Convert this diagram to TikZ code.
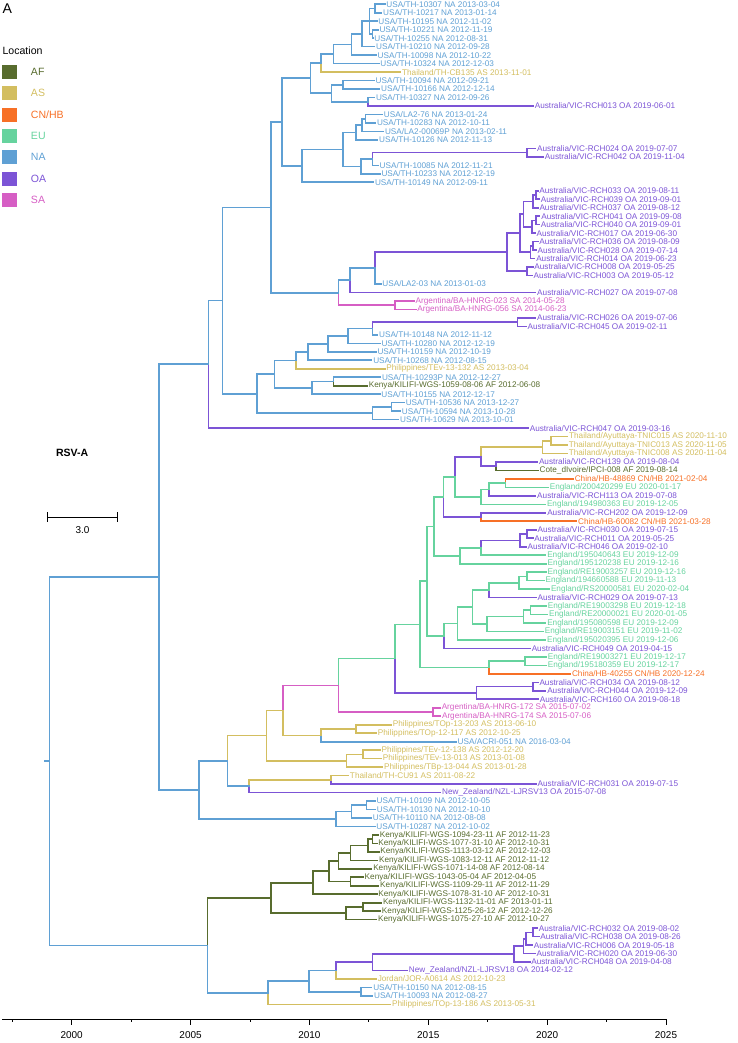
\documentclass[tikz,border=0pt]{standalone}
\usepackage{fontspec}
\setmainfont{Liberation Sans}
\usetikzlibrary{positioning}
\definecolor{locAF}{RGB}{88,108,46}
\definecolor{locAS}{RGB}{211,190,96}
\definecolor{locCN}{RGB}{247,112,38}
\definecolor{locEU}{RGB}{102,211,158}
\definecolor{locNA}{RGB}{95,160,212}
\definecolor{locOA}{RGB}{124,84,214}
\definecolor{locSA}{RGB}{214,94,196}
\tikzset{
  lf/.style   = {anchor=west, inner xsep=1.2pt, inner ysep=0pt,
                 font=\fontsize{7}{8}\selectfont},
  lfAF/.style = {lf, text=locAF},
  lfAS/.style = {lf, text=locAS},
  lfCN/.style = {lf, text=locCN},
  lfEU/.style = {lf, text=locEU},
  lfNA/.style = {lf, text=locNA},
  lfOA/.style = {lf, text=locOA},
  lfSA/.style = {lf, text=locSA},
  br/.style   = {line width=1.4pt, line cap=rect},
  brAF/.style = {br, draw=locAF},
  brAS/.style = {br, draw=locAS},
  brCN/.style = {br, draw=locCN},
  brEU/.style = {br, draw=locEU},
  brNA/.style = {br, draw=locNA},
  brOA/.style = {br, draw=locOA},
  brSA/.style = {br, draw=locSA}
}

\begin{document}
\begin{tikzpicture}[
    x=0.03cm, y=-0.03cm,
    key/.style={minimum size=0.42cm, inner sep=0pt},
    keytxt/.style={anchor=west, inner sep=0pt, font=\fontsize{9}{10}\selectfont},
    yrlbl/.style={inner sep=0pt, font=\fontsize{8.5}{9}\selectfont},
    axs/.style={line width=0.8pt, black}
  ]
  \useasboundingbox (0,0) rectangle (738,1043);

  % ── PANEL + LEGEND ──
  \node[anchor=north west, inner sep=0pt, font=\fontsize{12}{12}\selectfont] (panel) at (2.4,4) {A};
  \node[keytxt] (loc) at (2.4,51) {Location};
  \node[key, fill=locAF] (kAF) at (9.5,72.0) {};
  \node[key, fill=locAS] (kAS) at (9.5,93.3) {};
  \node[key, fill=locCN] (kCN) at (9.5,114.7) {};
  \node[key, fill=locEU] (kEU) at (9.5,136.0) {};
  \node[key, fill=locNA] (kNA) at (9.5,157.3) {};
  \node[key, fill=locOA] (kOA) at (9.5,178.7) {};
  \node[key, fill=locSA] (kSA) at (9.5,200.0) {};
  \node[keytxt, text=locAF, right=0.42cm of kAF] (tAF) {AF};
  \node[keytxt, text=locAS, right=0.42cm of kAS] (tAS) {AS};
  \node[keytxt, text=locCN, right=0.42cm of kCN] (tCN) {CN/HB};
  \node[keytxt, text=locEU, right=0.42cm of kEU] (tEU) {EU};
  \node[keytxt, text=locNA, right=0.42cm of kNA] (tNA) {NA};
  \node[keytxt, text=locOA, right=0.42cm of kOA] (tOA) {OA};
  \node[keytxt, text=locSA, right=0.42cm of kSA] (tSA) {SA};

  % ── SUBTYPE + SCALE BAR ──
  \node[font=\bfseries\fontsize{9}{10}\selectfont] (rsv) at (72.2,453.3) {RSV-A};
  \coordinate (sb_l) at (47.2,517.3);
  \coordinate (sb_r) at (117.9,517.3);
  \draw[axs] (sb_l) -- (sb_r);
  \draw[axs] (47.2,512.3) -- (47.2,522.3) (117.9,512.3) -- (117.9,522.3);
  \node[yrlbl] (sb_txt) at (82.5,530.5) {3.0};

  \begin{scope}[shift={(71.7,-4.175)}, x=0.7131cm, y=-0.25425cm]
    % ── TIPS ──
    \node[lfNA] (L1)   at (13.170,1)   {USA/TH-10307 NA 2013-03-04};
    \node[lfNA] (L2)   at (13.036,2)   {USA/TH-10217 NA 2013-01-14};
    \node[lfNA] (L3)   at (12.836,3)   {USA/TH-10195 NA 2012-11-02};
    \node[lfNA] (L4)   at (12.882,4)   {USA/TH-10221 NA 2012-11-19};
    \node[lfNA] (L5)   at (12.663,5)   {USA/TH-10255 NA 2012-08-31};
    \node[lfNA] (L6)   at (12.740,6)   {USA/TH-10210 NA 2012-09-28};
    \node[lfNA] (L7)   at (12.805,7)   {USA/TH-10098 NA 2012-10-22};
    \node[lfNA] (L8)   at (12.920,8)   {USA/TH-10324 NA 2012-12-03};
    \node[lfAS] (L9)   at (13.833,9)   {Thailand/TH-CB135 AS 2013-11-01};
    \node[lfNA] (L10)  at (12.721,10)  {USA/TH-10094 NA 2012-09-21};
    \node[lfNA] (L11)  at (12.951,11)  {USA/TH-10166 NA 2012-12-14};
    \node[lfNA] (L12)  at (12.734,12)  {USA/TH-10327 NA 2012-09-26};
    \node[lfOA] (L13)  at (19.414,13)  {Australia/VIC-RCH013 OA 2019-06-01};
    \node[lfNA] (L14)  at (13.063,14)  {USA/LA2-76 NA 2013-01-24};
    \node[lfNA] (L15)  at (12.775,15)  {USA/TH-10283 NA 2012-10-11};
    \node[lfNA] (L16)  at (13.112,16)  {USA/LA2-00069P NA 2013-02-11};
    \node[lfNA] (L17)  at (12.866,17)  {USA/TH-10126 NA 2012-11-13};
    \node[lfOA] (L18)  at (19.512,18)  {Australia/VIC-RCH024 OA 2019-07-07};
    \node[lfOA] (L19)  at (19.841,19)  {Australia/VIC-RCH042 OA 2019-11-04};
    \node[lfNA] (L20)  at (12.888,20)  {USA/TH-10085 NA 2012-11-21};
    \node[lfNA] (L21)  at (12.964,21)  {USA/TH-10233 NA 2012-12-19};
    \node[lfNA] (L22)  at (12.693,22)  {USA/TH-10149 NA 2012-09-11};
    \node[lfOA] (L23)  at (19.608,23)  {Australia/VIC-RCH033 OA 2019-08-11};
    \node[lfOA] (L24)  at (19.666,24)  {Australia/VIC-RCH039 OA 2019-09-01};
    \node[lfOA] (L25)  at (19.611,25)  {Australia/VIC-RCH037 OA 2019-08-12};
    \node[lfOA] (L26)  at (19.685,26)  {Australia/VIC-RCH041 OA 2019-09-08};
    \node[lfOA] (L27)  at (19.666,27)  {Australia/VIC-RCH040 OA 2019-09-01};
    \node[lfOA] (L28)  at (19.493,28)  {Australia/VIC-RCH017 OA 2019-06-30};
    \node[lfOA] (L29)  at (19.603,29)  {Australia/VIC-RCH036 OA 2019-08-09};
    \node[lfOA] (L30)  at (19.532,30)  {Australia/VIC-RCH028 OA 2019-07-14};
    \node[lfOA] (L31)  at (19.474,31)  {Australia/VIC-RCH014 OA 2019-06-23};
    \node[lfOA] (L32)  at (19.395,32)  {Australia/VIC-RCH008 OA 2019-05-25};
    \node[lfOA] (L33)  at (19.359,33)  {Australia/VIC-RCH003 OA 2019-05-12};
    \node[lfNA] (L34)  at (13.005,34)  {USA/LA2-03 NA 2013-01-03};
    \node[lfOA] (L35)  at (19.515,35)  {Australia/VIC-RCH027 OA 2019-07-08};
    \node[lfSA] (L36)  at (14.403,36)  {Argentina/BA-HNRG-023 SA 2014-05-28};
    \node[lfSA] (L37)  at (14.474,37)  {Argentina/BA-HNRG-056 SA 2014-06-23};
    \node[lfOA] (L38)  at (19.510,38)  {Australia/VIC-RCH026 OA 2019-07-06};
    \node[lfOA] (L39)  at (19.112,39)  {Australia/VIC-RCH045 OA 2019-02-11};
    \node[lfNA] (L40)  at (12.863,40)  {USA/TH-10148 NA 2012-11-12};
    \node[lfNA] (L41)  at (12.964,41)  {USA/TH-10280 NA 2012-12-19};
    \node[lfNA] (L42)  at (12.797,42)  {USA/TH-10159 NA 2012-10-19};
    \node[lfNA] (L43)  at (12.619,43)  {USA/TH-10268 NA 2012-08-15};
    \node[lfAS] (L44)  at (13.170,44)  {Philippines/TEv-13-132 AS 2013-03-04};
    \node[lfNA] (L45)  at (12.986,45)  {USA/TH-10293P NA 2012-12-27};
    \node[lfAF] (L46)  at (12.433,46)  {Kenya/KILIFI-WGS-1059-08-06 AF 2012-06-08};
    \node[lfNA] (L47)  at (12.959,47)  {USA/TH-10155 NA 2012-12-17};
    \node[lfNA] (L48)  at (13.986,48)  {USA/TH-10536 NA 2013-12-27};
    \node[lfNA] (L49)  at (13.822,49)  {USA/TH-10594 NA 2013-10-28};
    \node[lfNA] (L50)  at (13.748,50)  {USA/TH-10629 NA 2013-10-01};
    \node[lfOA] (L51)  at (19.203,51)  {Australia/VIC-RCH047 OA 2019-03-16};
    \node[lfAS] (L52)  at (20.858,52)  {Thailand/Ayuttaya-TNIC015 AS 2020-11-10};
    \node[lfAS] (L53)  at (20.844,53)  {Thailand/Ayuttaya-TNIC013 AS 2020-11-05};
    \node[lfAS] (L54)  at (20.841,54)  {Thailand/Ayuttaya-TNIC008 AS 2020-11-04};
    \node[lfOA] (L55)  at (19.589,55)  {Australia/VIC-RCH139 OA 2019-08-04};
    \node[lfAF] (L56)  at (19.617,56)  {Cote\_dIvoire/IPCI-008 AF 2019-08-14};
    \node[lfCN] (L57)  at (21.095,57)  {China/HB-48869 CN/HB 2021-02-04};
    \node[lfEU] (L58)  at (20.044,58)  {England/200420299 EU 2020-01-17};
    \node[lfOA] (L59)  at (19.515,59)  {Australia/VIC-RCH113 OA 2019-07-08};
    \node[lfEU] (L60)  at (19.926,60)  {England/194980363 EU 2019-12-05};
    \node[lfOA] (L61)  at (19.937,61)  {Australia/VIC-RCH202 OA 2019-12-09};
    \node[lfCN] (L62)  at (21.236,62)  {China/HB-60082 CN/HB 2021-03-28};
    \node[lfOA] (L63)  at (19.534,63)  {Australia/VIC-RCH030 OA 2019-07-15};
    \node[lfOA] (L64)  at (19.395,64)  {Australia/VIC-RCH011 OA 2019-05-25};
    \node[lfOA] (L65)  at (19.110,65)  {Australia/VIC-RCH046 OA 2019-02-10};
    \node[lfEU] (L66)  at (19.937,66)  {England/195040643 EU 2019-12-09};
    \node[lfEU] (L67)  at (19.956,67)  {England/195120238 EU 2019-12-16};
    \node[lfEU] (L68)  at (19.956,68)  {England/RE19003257 EU 2019-12-16};
    \node[lfEU] (L69)  at (19.866,69)  {England/194660588 EU 2019-11-13};
    \node[lfEU] (L70)  at (20.094,70)  {England/RS20000581 EU 2020-02-04};
    \node[lfOA] (L71)  at (19.529,71)  {Australia/VIC-RCH029 OA 2019-07-13};
    \node[lfEU] (L72)  at (19.962,72)  {England/RE19003298 EU 2019-12-18};
    \node[lfEU] (L73)  at (20.011,73)  {England/RE20000021 EU 2020-01-05};
    \node[lfEU] (L74)  at (19.937,74)  {England/195080598 EU 2019-12-09};
    \node[lfEU] (L75)  at (19.836,75)  {England/RE19003151 EU 2019-11-02};
    \node[lfEU] (L76)  at (19.929,76)  {England/195020395 EU 2019-12-06};
    \node[lfOA] (L77)  at (19.285,77)  {Australia/VIC-RCH049 OA 2019-04-15};
    \node[lfEU] (L78)  at (19.959,78)  {England/RE19003271 EU 2019-12-17};
    \node[lfEU] (L79)  at (19.959,79)  {England/195180359 EU 2019-12-17};
    \node[lfCN] (L80)  at (20.978,80)  {China/HB-40255 CN/HB 2020-12-24};
    \node[lfOA] (L81)  at (19.611,81)  {Australia/VIC-RCH034 OA 2019-08-12};
    \node[lfOA] (L82)  at (19.937,82)  {Australia/VIC-RCH044 OA 2019-12-09};
    \node[lfOA] (L83)  at (19.628,83)  {Australia/VIC-RCH160 OA 2019-08-18};
    \node[lfSA] (L84)  at (15.499,84)  {Argentina/BA-HNRG-172 SA 2015-07-02};
    \node[lfSA] (L85)  at (15.510,85)  {Argentina/BA-HNRG-174 SA 2015-07-06};
    \node[lfAS] (L86)  at (13.439,86)  {Philippines/TOp-13-203 AS 2013-06-10};
    \node[lfAS] (L87)  at (12.814,87)  {Philippines/TOp-12-117 AS 2012-10-25};
    \node[lfNA] (L88)  at (16.170,88)  {USA/ACRI-051 NA 2016-03-04};
    \node[lfAS] (L89)  at (12.967,89)  {Philippines/TEv-12-138 AS 2012-12-20};
    \node[lfAS] (L90)  at (13.019,90)  {Philippines/TEv-13-013 AS 2013-01-08};
    \node[lfAS] (L91)  at (13.074,91)  {Philippines/TBp-13-044 AS 2013-01-28};
    \node[lfAS] (L92)  at (11.638,92)  {Thailand/TH-CU91 AS 2011-08-22};
    \node[lfOA] (L93)  at (19.534,93)  {Australia/VIC-RCH031 OA 2019-07-15};
    \node[lfOA] (L94)  at (15.515,94)  {New\_Zealand/NZL-LJRSV13 OA 2015-07-08};
    \node[lfNA] (L95)  at (12.759,95)  {USA/TH-10109 NA 2012-10-05};
    \node[lfNA] (L96)  at (12.773,96)  {USA/TH-10130 NA 2012-10-10};
    \node[lfNA] (L97)  at (12.600,97)  {USA/TH-10110 NA 2012-08-08};
    \node[lfNA] (L98)  at (12.751,98)  {USA/TH-10287 NA 2012-10-02};
    \node[lfAF] (L99)  at (12.893,99)  {Kenya/KILIFI-WGS-1094-23-11 AF 2012-11-23};
    \node[lfAF] (L100) at (12.830,100) {Kenya/KILIFI-WGS-1077-31-10 AF 2012-10-31};
    \node[lfAF] (L101) at (12.920,101) {Kenya/KILIFI-WGS-1113-03-12 AF 2012-12-03};
    \node[lfAF] (L102) at (12.863,102) {Kenya/KILIFI-WGS-1083-12-11 AF 2012-11-12};
    \node[lfAF] (L103) at (12.617,103) {Kenya/KILIFI-WGS-1071-14-08 AF 2012-08-14};
    \node[lfAF] (L104) at (12.258,104) {Kenya/KILIFI-WGS-1043-05-04 AF 2012-04-05};
    \node[lfAF] (L105) at (12.910,105) {Kenya/KILIFI-WGS-1109-29-11 AF 2012-11-29};
    \node[lfAF] (L106) at (12.830,106) {Kenya/KILIFI-WGS-1078-31-10 AF 2012-10-31};
    \node[lfAF] (L107) at (13.027,107) {Kenya/KILIFI-WGS-1132-11-01 AF 2013-01-11};
    \node[lfAF] (L108) at (12.984,108) {Kenya/KILIFI-WGS-1125-26-12 AF 2012-12-26};
    \node[lfAF] (L109) at (12.819,109) {Kenya/KILIFI-WGS-1075-27-10 AF 2012-10-27};
    \node[lfOA] (L110) at (19.584,110) {Australia/VIC-RCH032 OA 2019-08-02};
    \node[lfOA] (L111) at (19.649,111) {Australia/VIC-RCH038 OA 2019-08-26};
    \node[lfOA] (L112) at (19.375,112) {Australia/VIC-RCH006 OA 2019-05-18};
    \node[lfOA] (L113) at (19.493,113) {Australia/VIC-RCH020 OA 2019-06-30};
    \node[lfOA] (L114) at (19.266,114) {Australia/VIC-RCH048 OA 2019-04-08};
    \node[lfOA] (L115) at (14.115,115) {New\_Zealand/NZL-LJRSV18 OA 2014-02-12};
    \node[lfAS] (L116) at (12.808,116) {Jordan/JOR-A0614 AS 2012-10-23};
    \node[lfNA] (L117) at (12.619,117) {USA/TH-10150 NA 2012-08-15};
    \node[lfNA] (L118) at (12.652,118) {USA/TH-10093 NA 2012-08-27};
    \node[lfAS] (L119) at (13.411,119) {Philippines/TOp-13-186 AS 2013-05-31};

    % ── UPPER NA CLADE ──
    \coordinate (n1)  at (12.758,1.5);
    \coordinate (n3)  at (12.659,4.5);
    \coordinate (n2)  at (12.520,3);
    \coordinate (n4)  at (12.222,4.5);
    \coordinate (n5)  at (11.766,5.75);
    \coordinate (n6)  at (11.012,6.875);
    \coordinate (n7)  at (10.476,7.938);
    \coordinate (n8)  at (11.409,10.5);
    \coordinate (n10) at (12.460,12.5);
    \coordinate (nB2) at (10.933,11.5);
    \coordinate (nB)  at (10.040,9.719);
    \coordinate (nE1) at (12.361,14.5);
    \coordinate (nE2) at (12.222,15.25);
    \coordinate (nE)  at (11.964,16.125);
    \coordinate (nF1) at (19.147,18.5);
    \coordinate (nF2) at (12.659,19.25);
    \coordinate (nF)  at (12.163,20.125);
    \coordinate (nD)  at (11.409,18.125);
    \coordinate (nC)  at (9.683,20.063);
    \coordinate (nA)  at (8.849,14.891);
    \draw[brNA] (n1) |- (L1.west) (n1) |- (L2.west);
    \draw[brNA] (n3) |- (L4.west) (n3) |- (L5.west);
    \draw[brNA] (n2) |- (n1) (n2) |- (L3.west) (n2) |- (n3);
    \draw[brNA] (n4) |- (n2) (n4) |- (L6.west);
    \draw[brNA] (n5) |- (n4) (n5) |- (L7.west);
    \draw[brNA] (n6) |- (n5) (n6) |- (L8.west);
    \draw[brNA] (n7) |- (n6);
    \draw[brAS] (n7) |- (L9.west);
    \draw[brNA] (n8) |- (L10.west) (n8) |- (L11.west);
    \draw[brNA] (n10) |- (L12.west);
    \draw[brOA] (n10) |- (L13.west);
    \draw[brNA] (nB2) |- (n8) (nB2) |- (n10);
    \draw[brNA] (nB) |- (n7) (nB) |- (nB2);
    \draw[brNA] (nE1) |- (L14.west) (nE1) |- (L15.west);
    \draw[brNA] (nE2) |- (nE1) (nE2) |- (L16.west);
    \draw[brNA] (nE) |- (nE2) (nE) |- (L17.west);
    \draw[brOA] (nF1) |- (L18.west) (nF1) |- (L19.west);
    \draw[brOA] (nF2) |- (nF1);
    \draw[brNA] (nF2) |- (L20.west);
    \draw[brNA] (nF) |- (nF2) (nF) |- (L21.west);
    \draw[brNA] (nD) |- (nE) (nD) |- (nF);
    \draw[brNA] (nC) |- (nD) (nC) |- (L22.west);
    \draw[brNA] (nA) |- (nB) (nA) |- (nC);

    % ── OA CLUSTER + ARGENTINA ──
    \coordinate (nP1a) at (19.544,23.5);
    \coordinate (nP1b) at (19.405,24.25);
    \coordinate (nP1c) at (19.544,26.5);
    \coordinate (nP1d) at (19.365,27.25);
    \coordinate (nP1)  at (19.008,25.75);
    \coordinate (nP2a) at (19.405,29.5);
    \coordinate (nP2)  at (19.306,30.25);
    \coordinate (nP0)  at (18.869,28);
    \coordinate (nP3)  at (19.147,32.5);
    \coordinate (nP)   at (18.313,30.25);
    \coordinate (nQA)  at (12.758,32.125);
    \coordinate (nQ1)  at (11.706,33.563);
    \coordinate (nQS)  at (13.591,36.5);
    \coordinate (nQ)   at (11.230,35.031);
    \coordinate (nR1a1a) at (8.393,24.961);
    \draw[brOA] (nP1a) |- (L23.west) (nP1a) |- (L24.west);
    \draw[brOA] (nP1b) |- (nP1a) (nP1b) |- (L25.west);
    \draw[brOA] (nP1c) |- (L26.west) (nP1c) |- (L27.west);
    \draw[brOA] (nP1d) |- (nP1c) (nP1d) |- (L28.west);
    \draw[brOA] (nP1) |- (nP1b) (nP1) |- (nP1d);
    \draw[brOA] (nP2a) |- (L29.west) (nP2a) |- (L30.west);
    \draw[brOA] (nP2) |- (nP2a) (nP2) |- (L31.west);
    \draw[brOA] (nP0) |- (nP1) (nP0) |- (nP2);
    \draw[brOA] (nP3) |- (L32.west) (nP3) |- (L33.west);
    \draw[brOA] (nP) |- (nP0) (nP) |- (nP3);
    \draw[brOA] (nQA) |- (nP);
    \draw[brNA] (nQA) |- (L34.west);
    \draw[brNA] (nQ1) |- (nQA);
    \draw[brOA] (nQ1) |- (L35.west);
    \draw[brSA] (nQS) |- (L36.west) (nQS) |- (L37.west);
    \draw[brNA] (nQ) |- (nQ1);
    \draw[brSA] (nQ) |- (nQS);
    \draw[brNA] (nR1a1a) |- (nA) (nR1a1a) |- (nQ);

    % ── SECOND NA CLADE ──
    \coordinate (nT1) at (18.750,38.5);
    \coordinate (nT2) at (12.659,39.25);
    \coordinate (nT3) at (11.627,40.125);
    \coordinate (nT4) at (10.774,41.063);
    \coordinate (nT5) at (9.940,42.031);
    \coordinate (nT6) at (9.425,43.016);
    \coordinate (nS1b1) at (11.012,45.5);
    \coordinate (nS1b)  at (10.119,46.25);
    \coordinate (nS1)   at (8.532,44.633);
    \coordinate (nS2a)  at (13.452,48.5);
    \coordinate (nS2)   at (12.659,49.25);
    \coordinate (nR1a1b) at (7.798,46.941);
    \coordinate (nR1a1)  at (6.349,35.951);
    \coordinate (nR1a)   at (5.754,43.476);
    \draw[brOA] (nT1) |- (L38.west) (nT1) |- (L39.west);
    \draw[brOA] (nT2) |- (nT1);
    \draw[brNA] (nT2) |- (L40.west);
    \draw[brNA] (nT3) |- (nT2) (nT3) |- (L41.west);
    \draw[brNA] (nT4) |- (nT3) (nT4) |- (L42.west);
    \draw[brNA] (nT5) |- (nT4) (nT5) |- (L43.west);
    \draw[brNA] (nT6) |- (nT5);
    \draw[brAS] (nT6) |- (L44.west);
    \draw[brNA] (nS1b1) |- (L45.west);
    \draw[brAF] (nS1b1) |- (L46.west);
    \draw[brNA] (nS1b) |- (nS1b1) (nS1b) |- (L47.west);
    \draw[brNA] (nS1) |- (nT6) (nS1) |- (nS1b);
    \draw[brNA] (nS2a) |- (L48.west) (nS2a) |- (L49.west);
    \draw[brNA] (nS2) |- (nS2a) (nS2) |- (L50.west);
    \draw[brNA] (nR1a1b) |- (nS1) (nR1a1b) |- (nS2);
    \draw[brNA] (nR1a1) |- (nR1a1a) (nR1a1) |- (nR1a1b);
    \draw[brNA] (nR1a) |- (nR1a1);
    \draw[brOA] (nR1a) |- (L51.west);

    % ── EU / OA CLADE ──
    \coordinate (nN1)  at (20.159,52.5);
    \coordinate (nN2)  at (19.802,53.25);
    \coordinate (nN3)  at (17.857,55.5);
    \coordinate (nN4)  at (17.222,54.375);
    \coordinate (nN5)  at (18.254,57.5);
    \coordinate (nN6)  at (17.560,58.25);
    \coordinate (nN7)  at (17.222,59.125);
    \coordinate (nN8)  at (16.131,56.75);
    \coordinate (nN9)  at (17.222,61.5);
    \coordinate (nN11) at (15.635,59.125);
    \coordinate (nO1)  at (19.147,63.5);
    \coordinate (nO2)  at (18.849,64.25);
    \coordinate (nO3)  at (17.222,65.125);
    \coordinate (nO4)  at (16.329,66.063);
    \coordinate (nN12) at (15.238,62.594);
    \coordinate (nH1)  at (19.147,68.5);
    \coordinate (nH2)  at (18.810,69.25);
    \coordinate (nH3)  at (17.560,70.125);
    \coordinate (nJ1)  at (19.306,72.5);
    \coordinate (nJ2)  at (19.008,73.25);
    \coordinate (nJ3)  at (17.460,74.125);
    \coordinate (nK)   at (16.865,72.125);
    \coordinate (nG1)  at (16.230,74.063);
    \coordinate (nG)   at (15.675,75.531);
    \coordinate (nM)   at (14.940,69.063);
    \coordinate (nW3a) at (19.067,78.5);
    \coordinate (nW3)  at (17.560,79.25);
    \coordinate (nW1a) at (14.643,74.156);
    \coordinate (nZ1)  at (19.405,81.5);
    \coordinate (nZ)   at (17.024,82.25);
    \coordinate (nW1)  at (13.591,78.203);
    \coordinate (nWS)  at (15.198,84.5);
    \coordinate (nW)   at (11.230,81.352);
    \draw[brAS] (nN1) |- (L52.west) (nN1) |- (L53.west);
    \draw[brAS] (nN2) |- (nN1) (nN2) |- (L54.west);
    \draw[brOA] (nN3) |- (L55.west);
    \draw[brAF] (nN3) |- (L56.west);
    \draw[brAS] (nN4) |- (nN2);
    \draw[brOA] (nN4) |- (nN3);
    \draw[brCN] (nN5) |- (L57.west);
    \draw[brEU] (nN5) |- (L58.west);
    \draw[brEU] (nN6) |- (nN5);
    \draw[brOA] (nN6) |- (L59.west);
    \draw[brEU] (nN7) |- (nN6) (nN7) |- (L60.west);
    \draw[brOA] (nN8) |- (nN4);
    \draw[brEU] (nN8) |- (nN7);
    \draw[brOA] (nN9) |- (L61.west);
    \draw[brCN] (nN9) |- (L62.west);
    \draw[brEU] (nN11) |- (nN8);
    \draw[brOA] (nN11) |- (nN9);
    \draw[brOA] (nO1) |- (L63.west) (nO1) |- (L64.west);
    \draw[brOA] (nO2) |- (nO1) (nO2) |- (L65.west);
    \draw[brOA] (nO3) |- (nO2);
    \draw[brEU] (nO3) |- (L66.west);
    \draw[brEU] (nO4) |- (nO3) (nO4) |- (L67.west);
    \draw[brEU] (nN12) |- (nN11) (nN12) |- (nO4);
    \draw[brEU] (nH1) |- (L68.west) (nH1) |- (L69.west);
    \draw[brEU] (nH2) |- (nH1) (nH2) |- (L70.west);
    \draw[brEU] (nH3) |- (nH2);
    \draw[brOA] (nH3) |- (L71.west);
    \draw[brEU] (nJ1) |- (L72.west) (nJ1) |- (L73.west);
    \draw[brEU] (nJ2) |- (nJ1) (nJ2) |- (L74.west);
    \draw[brEU] (nJ3) |- (nJ2) (nJ3) |- (L75.west);
    \draw[brEU] (nK) |- (nH3) (nK) |- (nJ3);
    \draw[brEU] (nG1) |- (nK) (nG1) |- (L76.west);
    \draw[brEU] (nG) |- (nG1);
    \draw[brOA] (nG) |- (L77.west);
    \draw[brEU] (nM) |- (nN12) (nM) |- (nG);
    \draw[brEU] (nW3a) |- (L78.west) (nW3a) |- (L79.west);
    \draw[brEU] (nW3) |- (nW3a);
    \draw[brCN] (nW3) |- (L80.west);
    \draw[brEU] (nW1a) |- (nM) (nW1a) |- (nW3);
    \draw[brOA] (nZ1) |- (L81.west) (nZ1) |- (L82.west);
    \draw[brOA] (nZ) |- (nZ1) (nZ) |- (L83.west);
    \draw[brEU] (nW1) |- (nW1a);
    \draw[brOA] (nW1) |- (nZ);
    \draw[brSA] (nWS) |- (L84.west) (nWS) |- (L85.west);
    \draw[brEU] (nW) |- (nW1);
    \draw[brSA] (nW) |- (nWS);

    % ── ASIA / MIXED CLADE ──
    \coordinate (nX1)   at (11.972,86.5);
    \coordinate (nX)    at (10.476,87.25);
    \coordinate (nU1a)  at (8.889,84.301);
    \coordinate (nU1b1) at (12.262,89.5);
    \coordinate (nU1b)  at (11.567,90.25);
    \coordinate (nU1)   at (8.194,87.275);
    \coordinate (nU2a)  at (10.913,92.5);
    \coordinate (nU2)   at (7.460,93.25);
    \coordinate (nU)    at (6.548,90.263);
    \coordinate (nV1)   at (12.401,95.5);
    \coordinate (nV2)   at (11.766,96.25);
    \coordinate (nV)    at (11.111,97.125);
    \coordinate (nR1b)  at (5.357,93.694);
    \coordinate (nR1)   at (3.671,68.585);
    \draw[brAS] (nX1) |- (L86.west) (nX1) |- (L87.west);
    \draw[brAS] (nX) |- (nX1);
    \draw[brNA] (nX) |- (L88.west);
    \draw[brSA] (nU1a) |- (nW);
    \draw[brAS] (nU1a) |- (nX);
    \draw[brAS] (nU1b1) |- (L89.west) (nU1b1) |- (L90.west);
    \draw[brAS] (nU1b) |- (nU1b1) (nU1b) |- (L91.west);
    \draw[brAS] (nU1) |- (nU1a) (nU1) |- (nU1b);
    \draw[brAS] (nU2a) |- (L92.west);
    \draw[brOA] (nU2a) |- (L93.west);
    \draw[brAS] (nU2) |- (nU2a);
    \draw[brOA] (nU2) |- (L94.west);
    \draw[brAS] (nU) |- (nU1);
    \draw[brNA] (nU) |- (nU2);
    \draw[brNA] (nV1) |- (L95.west) (nV1) |- (L96.west);
    \draw[brNA] (nV2) |- (nV1) (nV2) |- (L97.west);
    \draw[brNA] (nV) |- (nV2) (nV) |- (L98.west);
    \draw[brNA] (nR1b) |- (nU) (nR1b) |- (nV);
    \draw[brNA] (nR1) |- (nR1a) (nR1) |- (nR1b);

    % ── KENYA + LOWER CLADE ──
    \coordinate (nK1) at (12.659,99.5);
    \coordinate (nK2) at (12.460,100.25);
    \coordinate (nK3) at (11.726,101.125);
    \coordinate (nK4) at (11.230,102.063);
    \coordinate (nK5) at (11.726,104.5);
    \coordinate (nK6) at (10.813,103.281);
    \coordinate (nK7) at (10.139,104.641);
    \coordinate (nK8) at (12.262,107.5);
    \coordinate (nK9) at (11.528,108.25);
    \coordinate (nR2a) at (8.393,106.445);
    \coordinate (nY2a) at (19.405,110.5);
    \coordinate (nY2b) at (19.107,111.25);
    \coordinate (nY2c) at (19.008,112.125);
    \coordinate (nY2)  at (18.611,113.063);
    \coordinate (nY3)  at (12.659,114.031);
    \coordinate (nY4)  at (11.111,115.016);
    \coordinate (nY1)  at (12.163,117.5);
    \coordinate (nY5)  at (9.980,116.258);
    \coordinate (nR2b) at (8.254,117.629);
    \coordinate (nR2)  at (5.714,112.037);
    \coordinate (root) at (-0.933,90.311);
    \coordinate (stem) at (-1.131,90.311);
    \draw[brAF] (nK1) |- (L99.west) (nK1) |- (L100.west);
    \draw[brAF] (nK2) |- (nK1) (nK2) |- (L101.west);
    \draw[brAF] (nK3) |- (nK2) (nK3) |- (L102.west);
    \draw[brAF] (nK4) |- (nK3) (nK4) |- (L103.west);
    \draw[brAF] (nK5) |- (L104.west) (nK5) |- (L105.west);
    \draw[brAF] (nK6) |- (nK4) (nK6) |- (nK5);
    \draw[brAF] (nK7) |- (nK6) (nK7) |- (L106.west);
    \draw[brAF] (nK8) |- (L107.west) (nK8) |- (L108.west);
    \draw[brAF] (nK9) |- (nK8) (nK9) |- (L109.west);
    \draw[brAF] (nR2a) |- (nK7) (nR2a) |- (nK9);
    \draw[brOA] (nY2a) |- (L110.west) (nY2a) |- (L111.west);
    \draw[brOA] (nY2b) |- (nY2a) (nY2b) |- (L112.west);
    \draw[brOA] (nY2c) |- (nY2b) (nY2c) |- (L113.west);
    \draw[brOA] (nY2) |- (nY2c) (nY2) |- (L114.west);
    \draw[brOA] (nY3) |- (nY2) (nY3) |- (L115.west);
    \draw[brOA] (nY4) |- (nY3);
    \draw[brAS] (nY4) |- (L116.west);
    \draw[brNA] (nY1) |- (L117.west) (nY1) |- (L118.west);
    \draw[brNA] (nY5) |- (nY4) (nY5) |- (nY1);
    \draw[brNA] (nR2b) |- (nY5);
    \draw[brAS] (nR2b) |- (L119.west);
    \draw[brAF] (nR2) |- (nR2a);
    \draw[brNA] (nR2) |- (nR2b);
    \draw[brNA] (root) |- (nR1) (root) |- (nR2);
    \draw[brNA] (stem) -- (root);

    % ── TIME AXIS ──
    \coordinate (ax_l) at (-2.915,120.73);
    \coordinate (ax_r) at (25,120.73);
    \draw[axs] (ax_l) -- (ax_r);
    \draw[axs] (-2.5,120.73) -- ++(0,0.4) (2.5,120.73) -- ++(0,0.4)
               (7.5,120.73) -- ++(0,0.4) (12.5,120.73) -- ++(0,0.4)
               (17.5,120.73) -- ++(0,0.4) (22.5,120.73) -- ++(0,0.4);
    \draw[axs] (0,120.73) -- ++(0,0.65) (5,120.73) -- ++(0,0.65)
               (10,120.73) -- ++(0,0.65) (15,120.73) -- ++(0,0.65)
               (20,120.73) -- ++(0,0.65) (25,120.73) -- ++(0,0.65);
    \node[yrlbl] (y2000) at (0,122.62)  {2000};
    \node[yrlbl] (y2005) at (5,122.62)  {2005};
    \node[yrlbl] (y2010) at (10,122.62) {2010};
    \node[yrlbl] (y2015) at (15,122.62) {2015};
    \node[yrlbl] (y2020) at (20,122.62) {2020};
    \node[yrlbl] (y2025) at (25,122.62) {2025};
  \end{scope}
\end{tikzpicture}
\end{document}
